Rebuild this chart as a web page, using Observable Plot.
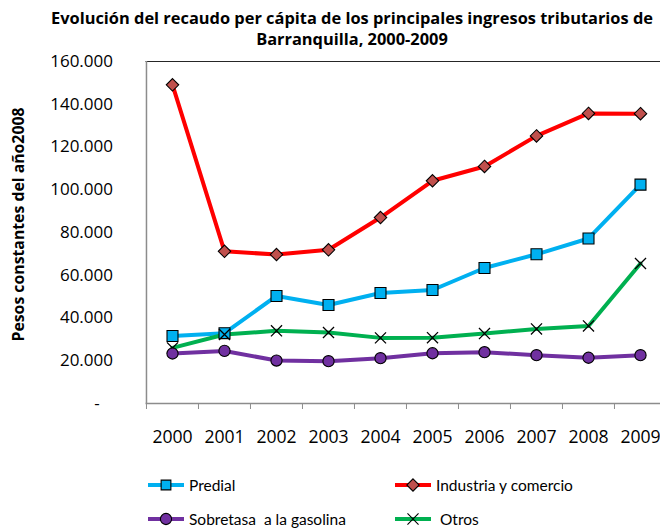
<!DOCTYPE html>
<html><head><meta charset="utf-8">
<script src="https://cdn.jsdelivr.net/npm/d3@7"></script>
<script src="https://cdn.jsdelivr.net/npm/@observablehq/plot@0.6"></script>
<style>
html,body{margin:0;padding:0;background:#fff;overflow:hidden;}
#wrap{position:relative;width:660px;height:528px;overflow:hidden;font-family:"Open Sans",sans-serif;color:#000;background:#fff;}
#title{position:absolute;left:22px;width:660px;top:7px;text-align:center;font-weight:bold;font-size:16.4px;line-height:21px;}
#chart{position:absolute;left:0;top:50px;width:680px;}
.leg{position:absolute;display:flex;align-items:center;font-family:Lato,sans-serif;font-size:15.5px;height:20px;white-space:pre;}
.leg svg{margin-right:5px;}
</style></head><body><div id="wrap">
<div id="title"></div>
<div id="chart"></div>
<div id="legend"></div>
</div>
<script>
const titleLines = ["Evolución del recaudo per cápita de los principales ingresos tributarios de", "Barranquilla, 2000-2009"];
const yLabel = "Pesos constantes del año2008";
const years = [2000, 2001, 2002, 2003, 2004, 2005, 2006, 2007, 2008, 2009];
const yTicks = [0, 20000, 40000, 60000, 80000, 100000, 120000, 140000, 160000];
const seriesNames = ["Predial", "Industria y comercio", "Sobretasa  a la gasolina", "Otros"];
const predial   = [31600, 32900, 50300, 46100, 51700, 53100, 63400, 69800, 77200, 102400];
const industria = [149100, 71200, 69700, 71900, 87000, 104200, 110900, 125200, 135700, 135600];
const sobretasa = [23400, 24600, 20100, 19800, 21200, 23500, 24000, 22600, 21400, 22600];
const otros     = [26000, 32300, 34000, 33200, 30700, 30800, 32700, 34900, 36300, 65500];
const lineColors = ["#00B0F0", "#FF0000", "#7030A0", "#00B050"];
const markerFills = ["#00B0F0", "#C0504D", "#7030A0", "none"];
const markerSymbols = ["square", "diamond2", "circle", "times"];
const markerR = [6.2, 5.6, 5.6, 5.1];

const values = [predial, industria, sobretasa, otros];
const rows = seriesNames.flatMap((s, i) => years.map((yr, j) => ({series: s, year: yr, value: values[i][j]})));

document.getElementById("title").innerHTML = titleLines.join("<br>");

const W = 666, ML = 145.5;
const half = (W - ML) / years.length / 2;
const fmt = d => d === 0 ? "-\u00a0\u00a0\u00a0" : d3.format(",")(d).replace(/,/g, ".");

const drawOrder = [0, 1, 3, 2];
const chart = Plot.plot({
  width: W, height: 410, marginLeft: ML, marginRight: 0, marginTop: 11, marginBottom: 57,
  style: {fontFamily: "'Open Sans', sans-serif", fontSize: "17px", color: "#000", background: "white", overflow: "visible", maxWidth: "none"},
  x: {type: "band", domain: years, padding: 0},
  y: {domain: [0, 160000]},
  color: {domain: seriesNames, range: lineColors},
  marks: [
    Plot.ruleY([160000], {stroke: "#262626", strokeWidth: 1.2}),
    Plot.ruleX([years[0]], {dx: -half, stroke: "#8c8c8c", strokeWidth: 1.5}),
    Plot.ruleY([0], {stroke: "#8c8c8c", strokeWidth: 1.5}),
    Plot.axisX({ticks: years, tickSize: 6, dx: -half, fill: "none", stroke: "#8c8c8c", label: null}),
    Plot.axisX({ticks: years, tickSize: 0, tickPadding: 26.5, tickFormat: d => String(d), label: null, fontSize: 17.6}),
    Plot.axisY({ticks: yTicks, tickSize: 0, tickPadding: 33, tickFormat: fmt, label: null, fontSize: 17}),
    Plot.text([yLabel], {text: d => d, frameAnchor: "left", textAnchor: "middle", rotate: -90, dx: -127, dy: -8, fontWeight: "bold", fontSize: 15.8}),
    ...drawOrder.map(i => Plot.lineY(rows.filter(r => r.series === seriesNames[i]), {x: "year", y: "value", stroke: "series", strokeWidth: 4})),
    ...drawOrder.map(i => Plot.dot(rows.filter(r => r.series === seriesNames[i]), {
      x: "year", y: "value", symbol: () => markerSymbols[i], r: markerR[i],
      fill: markerFills[i], stroke: "#000", strokeWidth: i === 3 ? 1.3 : 1.1
    }))
  ]
});
document.getElementById("chart").appendChild(chart);

// legend
const legPos = [[148, 475], [395, 475], [148, 509], [395, 509]];
const leg = document.getElementById("legend");
seriesNames.forEach((s, i) => {
  const div = document.createElement("div");
  div.className = "leg";
  div.style.left = legPos[i][0] + "px";
  div.style.top = legPos[i][1] + "px";
  const sw = d3.create("svg").attr("width", 36).attr("height", 20);
  sw.append("line").attr("x1", 0).attr("x2", 36).attr("y1", 10).attr("y2", 10).attr("stroke", lineColors[i]).attr("stroke-width", 4);
  const sym = {square: d3.symbolSquare2, diamond2: d3.symbolDiamond2, circle: d3.symbolCircle, times: d3.symbolTimes}[markerSymbols[i]];
  sw.append("path").attr("transform", "translate(18,10)")
    .attr("d", d3.symbol(sym, Math.PI * markerR[i] * markerR[i])())
    .attr("fill", markerFills[i]).attr("stroke", "#000").attr("stroke-width", 1.1);
  div.appendChild(sw.node());
  const t = document.createElement("span");
  t.textContent = (i === 3 ? " " : "") + s;
  div.appendChild(t);
  leg.appendChild(div);
});
</script>
</body></html>
